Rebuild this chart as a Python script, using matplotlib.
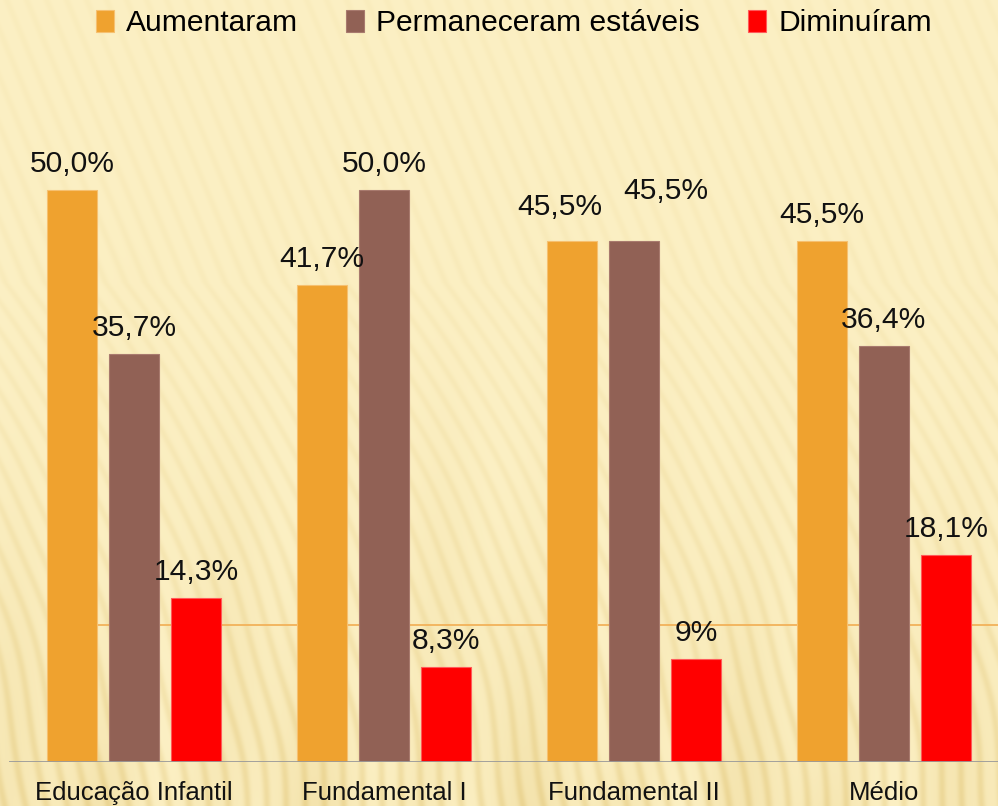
import numpy as np
import matplotlib
matplotlib.use("Agg")
import matplotlib.pyplot as plt

categories = ["Educação Infantil", "Fundamental I", "Fundamental II", "Médio"]
series_names = ["Aumentaram", "Permaneceram estáveis", "Diminuíram"]
aumentaram = [50.0, 41.7, 45.5, 45.5]
permaneceram = [35.7, 50.0, 45.5, 36.4]
diminuiram = [14.3, 8.3, 9.0, 18.1]
labels_aum = ["50,0%", "41,7%", "45,5%", "45,5%"]
labels_perm = ["35,7%", "50,0%", "45,5%", "36,4%"]
labels_dim = ["14,3%", "8,3%", "9%", "18,1%"]

colors = ["#EFA22F", "#916155", "#FF0000"]
edgecolors = ["#F6C070", "#A87A6E", "#FF5A5A"]

W, H = 998, 806
fig = plt.figure(figsize=(W / 100, H / 100), dpi=100)

# ---- background texture (decorative) ----
yy, xx = np.mgrid[0:H, 0:W].astype(float)
t = yy / H
k = 0.42 - 0.30 * np.clip((t - 0.35) / 0.6, 0, 1)
wob = 4.0 * np.sin(yy / 37.0 + xx / 90.0) * np.clip((t - 0.5) / 0.5, 0, 1)
phase = (xx + (H - yy) * k + wob) / 20.0 * 2 * np.pi
stripe = 0.5 + 0.5 * np.sin(phase)
stripe = stripe ** 2.5
broad = 0.5 + 0.5 * np.sin(xx / 61.0 + yy / 140.0) * np.sin(xx / 23.0 - yy / 300.0)
light = np.array([252, 240, 196]) / 255.0
dark = np.array([232, 208, 138]) / 255.0
amount = (0.22 + 0.65 * t ** 2.4) * (0.55 * stripe + 0.45 * broad * t)
amount = np.clip(amount, 0, 1)
img = light[None, None, :] * (1 - amount[..., None]) + dark[None, None, :] * amount[..., None]
bg = fig.add_axes([0, 0, 1, 1], zorder=0)
bg.imshow(img, aspect="auto", interpolation="bilinear")
bg.axis("off")

# ---- main axes ----
px_per_unit = 11.44
ax_left, ax_right = 9, 998
base_y = 762
ylim_top = 60
ax_h = ylim_top * px_per_unit
ax = fig.add_axes([ax_left / W, (H - base_y) / H, (ax_right - ax_left) / W, ax_h / H], zorder=1)
ax.patch.set_alpha(0)
ax.set_ylim(0, ylim_top)
ax.set_xlim(-0.5, -0.5 + (ax_right - ax_left) / 250.0)

x = np.arange(len(categories))
bw = 0.2
off = 0.248
data = [aumentaram, permaneceram, diminuiram]
labs = [labels_aum, labels_perm, labels_dim]
# label offsets in pixels (dx, gap above bar)
offsets = [
    [(0, 18), (0, 18), (-12, 26), (0, 18)],
    [(0, 18), (0, 18), (32, 42), (0, 18)],
    [(0, 18), (0, 18), (0, 18), (0, 18)],
]

ax.axhline(12.0, xmin=(97 - ax_left) / (ax_right - ax_left), xmax=1, color="#F2B25A", lw=1.3, zorder=1)

font = "Liberation Sans"
for i in range(3):
    xs = x + (i - 1) * off
    ax.bar(xs, data[i], width=bw, color=colors[i], edgecolor=edgecolors[i], linewidth=0.8,
           label=series_names[i], zorder=2)
    for j in range(len(categories)):
        dx, gap = offsets[i][j]
        ax.annotate(labs[i][j], (xs[j], data[i][j]), xytext=(dx * 0.72, gap * 0.72),
                    textcoords="offset points", ha="center", va="baseline",
                    fontsize=21.6, family=font, color="#111111", zorder=3)

ax.axhline(0, color="#9A9A9A", lw=2.0, zorder=3)
for s in ax.spines.values():
    s.set_visible(False)
ax.set_yticks([])
ax.set_xticks(x)
ax.set_xticklabels([])
ax.tick_params(length=0)
for j, c in enumerate(categories):
    ax.annotate(c, (x[j], 0), xytext=(0, -(800 - base_y) * 0.72), textcoords="offset points",
                ha="center", va="baseline", fontsize=18.5, family=font, color="#111111",
                annotation_clip=False)

fig.legend(loc="upper center", bbox_to_anchor=(514 / W, 1 - 9 / H), ncol=3, frameon=False,
           prop={"family": font, "size": 21.6}, handlelength=0.6, handleheight=0.75,
           handletextpad=0.4, columnspacing=1.6, borderaxespad=0, borderpad=0)

fig.savefig("out.png", dpi=100)
